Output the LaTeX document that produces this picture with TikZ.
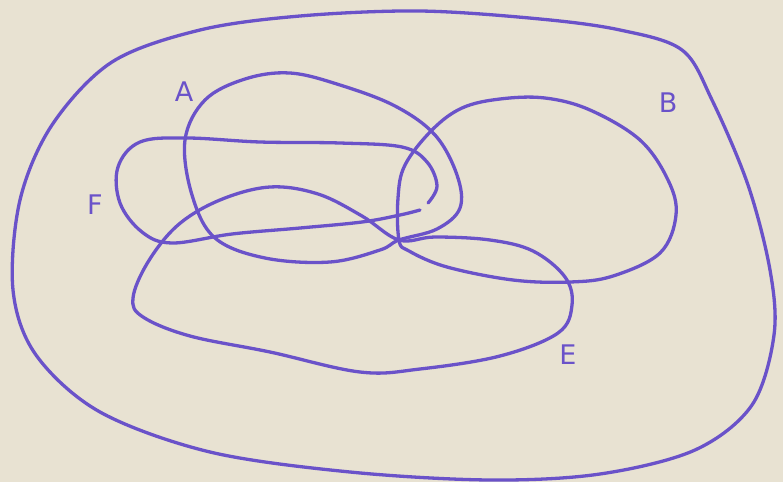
\documentclass[tikz,border=0pt]{standalone}
\usepackage{fontspec}
\setsansfont{DejaVu Sans}
\definecolor{paper}{HTML}{E8E2D2}
\definecolor{ink}{HTML}{6A52C9}
\begin{document}
\begin{tikzpicture}[x=1pt,y=-1pt,
  curve/.style={draw=ink,line width=3.3pt,line cap=round,line join=round},
  lbl/.style={text=ink,font=\sffamily\fontsize{27}{27}\selectfont,inner sep=0pt}]
\fill[paper] (0,0) rectangle (783,482);
\useasboundingbox (0,0) rectangle (783,482);
\coordinate (J) at (399,240);
% outer boundary
\draw[curve] plot[smooth cycle,tension=0.55] coordinates {
 (200,30) (300,16) (420,11) (540,19) (620,30) (682,50) (712,100) (748,185)
 (770,270) (774,335) (752,405) (695,450) (600,474) (490,480) (350,472)
 (210,452) (100,412) (36,355) (13,290) (20,200) (52,125) (112,62)};
% A
\draw[curve] plot[smooth cycle,tension=0.6] coordinates {
 (J) (380,250) (330,262) (265,258) (215,238) (192,195) (185,140) (205,100)
 (245,79) (290,73) (340,85) (395,106) (435,135) (457,175) (460,208) (437,229)};
% F
\draw[curve] plot[smooth,tension=0.6] coordinates {
 (428,203) (437,186) (427,162) (402,147) (340,143) (260,142) (187,138)
 (140,142) (118,167) (120,203) (142,232) (172,243) (232,234) (300,228)
 (362,222) (400,215) (420,210)};
% E
\draw[curve] plot[smooth cycle,tension=0.6] coordinates {
 (J) (435,237) (490,240) (533,251) (565,277) (572,305) (558,333) (500,356)
 (420,369) (360,372) (270,352) (190,336) (143,317) (133,298) (148,262)
 (178,225) (220,200) (270,187) (318,194) (362,216)};
% B
\draw[curve] plot[smooth cycle,tension=0.6] coordinates {
 (J) (398,198) (405,165) (432,130) (462,108) (500,99) (545,98) (590,110)
 (640,140) (668,180) (676,215) (660,253) (613,276) (570,282) (513,280)
 (447,267) (409,251)};
\node[lbl] (la) at (184,92) {A};
\node[lbl] (lb) at (668,103) {B};
\node[lbl] (lf) at (95,205) {F};
\node[lbl] (le) at (568,355) {E};
\end{tikzpicture}
\end{document}
